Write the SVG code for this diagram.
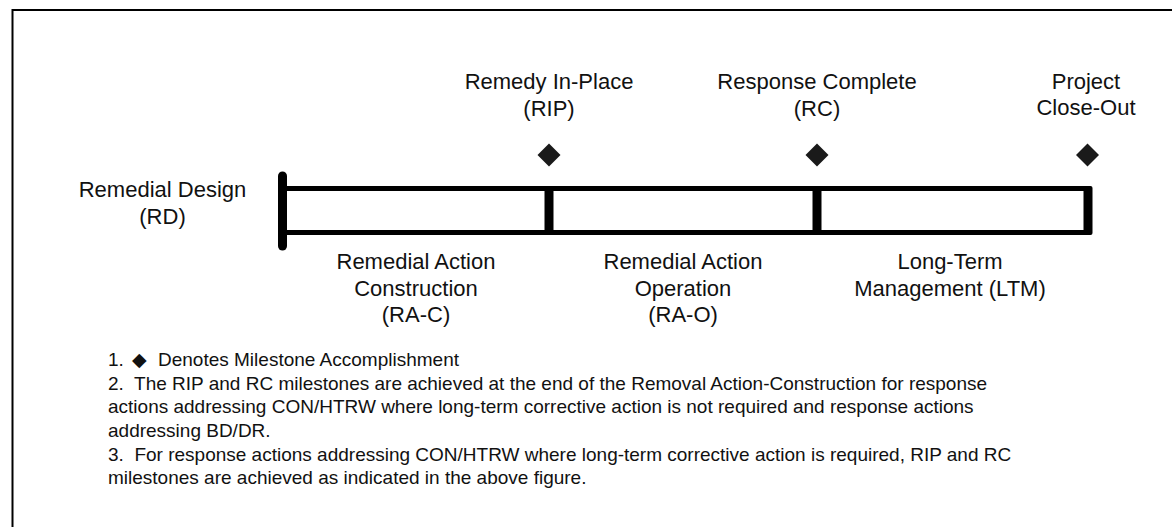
<svg xmlns="http://www.w3.org/2000/svg" width="1172" height="527" viewBox="0 0 1172 527">
  <style>
    .lbl { font-family: "Liberation Sans", Arial, sans-serif; font-size: 22px; fill: #111; text-anchor: middle; }
    .note { font-family: "Liberation Sans", Arial, sans-serif; font-size: 19px; fill: #111; white-space: pre; }
    .sym { font-family: "DejaVu Sans", sans-serif; }
    .rail { stroke: #000; stroke-width: 5; fill: none; }
    .bar { stroke: #000; stroke-width: 9; stroke-linecap: round; fill: none; }
    .div { stroke: #000; stroke-width: 9; fill: none; }
    .ms { fill: #1a1a1a; }
  </style>
  <defs>
    <polygon id="diamond" points="0,-11.5 11.5,0 0,11.5 -11.5,0"/>
  </defs>

  <rect x="0" y="0" width="1172" height="527" fill="#fff"/>
  <!-- frame: only left and top edges fall inside the canvas -->
  <rect x="12.5" y="10" width="1180" height="540" fill="none" stroke="#000" stroke-width="2"/>

  <!-- timeline rails and phase dividers -->
  <g id="connectors">
    <line class="rail" x1="282" y1="188.5" x2="1088" y2="188.5"/>
    <line class="rail" x1="282" y1="232.5" x2="1088" y2="232.5"/>
    <line class="bar" x1="282.5" y1="176" x2="282.5" y2="246"/>
    <line class="div" x1="549" y1="186" x2="549" y2="235"/>
    <line class="div" x1="817" y1="186" x2="817" y2="235"/>
    <rect x="1083.5" y="186" width="9" height="49" rx="2" fill="#000"/>
  </g>

  <g id="node-rd">
    <text class="lbl" x="162.5" y="197">Remedial Design</text>
    <text class="lbl" x="162.5" y="224">(RD)</text>
  </g>

  <g id="node-rip">
    <text class="lbl" x="549" y="89">Remedy In-Place</text>
    <text class="lbl" x="549" y="116">(RIP)</text>
    <use href="#diamond" class="ms" x="549" y="155"/>
  </g>

  <g id="node-rc">
    <text class="lbl" x="817" y="89">Response Complete</text>
    <text class="lbl" x="817" y="116">(RC)</text>
    <use href="#diamond" class="ms" x="817" y="155"/>
  </g>

  <g id="node-closeout">
    <text class="lbl" x="1086" y="89">Project</text>
    <text class="lbl" x="1086" y="115">Close-Out</text>
    <use href="#diamond" class="ms" x="1087.5" y="155"/>
  </g>

  <g id="node-rac">
    <text class="lbl" x="416" y="269">Remedial Action</text>
    <text class="lbl" x="416" y="296">Construction</text>
    <text class="lbl" x="416" y="322">(RA-C)</text>
  </g>

  <g id="node-rao">
    <text class="lbl" x="683" y="269">Remedial Action</text>
    <text class="lbl" x="683" y="296">Operation</text>
    <text class="lbl" x="683" y="322">(RA-O)</text>
  </g>

  <g id="node-ltm">
    <text class="lbl" x="950" y="269">Long-Term</text>
    <text class="lbl" x="950" y="296">Management (LTM)</text>
  </g>

  <g id="notes" xml:space="preserve">
    <text class="note" x="108" y="366">1.<tspan class="sym" x="132">◆</tspan><tspan x="158">Denotes Milestone Accomplishment</tspan></text>
    <text class="note" x="108" y="389.5">2.  The RIP and RC milestones are achieved at the end of the Removal Action-Construction for response</text>
    <text class="note" x="108" y="413">actions addressing CON/HTRW where long-term corrective action is not required and response actions</text>
    <text class="note" x="108" y="436.7">addressing BD/DR.</text>
    <text class="note" x="108" y="461">3.  For response actions addressing CON/HTRW where long-term corrective action is required, RIP and RC</text>
    <text class="note" x="108" y="484.3">milestones are achieved as indicated in the above figure.</text>
  </g>
</svg>
